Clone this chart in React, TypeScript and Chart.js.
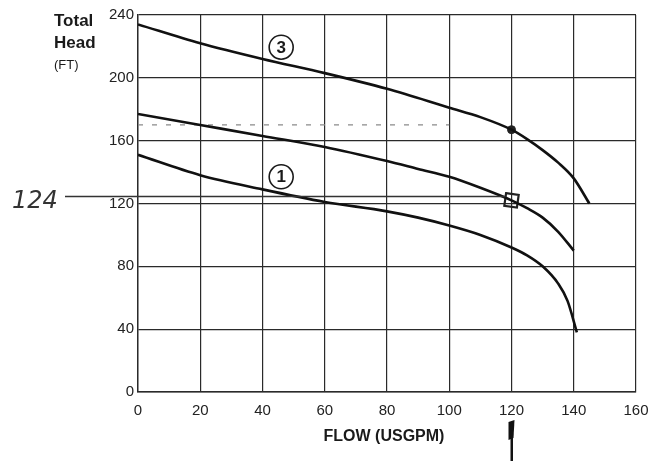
import React, { useEffect, useRef } from "react";
import { Chart, registerables } from "chart.js";

Chart.register(...registerables);

const xTicks = [0, 20, 40, 60, 80, 100, 120, 140, 160];
const yTicks = [0, 40, 80, 120, 160, 200, 240];

const flow3 = [0, 20, 40, 60, 80, 100, 110, 120, 125, 130, 135, 140, 145];
const head3 = [234, 222, 212, 203, 193, 181, 175, 167, 161, 154, 146, 136, 120];

const flow2 = [0, 20, 40, 60, 80, 90, 100, 110, 120, 125, 130, 135, 140];
const head2 = [177, 170, 163, 156, 147, 142, 137, 130, 122, 117, 111, 102, 90];

const flow1 = [0, 20, 40, 60, 80, 90, 100, 110, 120, 125, 130, 135, 138, 141];
const head1 = [151, 138, 129, 121, 115, 111, 106, 100, 92, 87, 80, 69, 58, 38];

const markedHead = 124.5;
const markedFlow = 120;
const dutyPoint = { x: 120, y: 122 };
const curve3Dot = { x: 120, y: 167 };
const pencilFlow = [0, 100];
const pencilHead = [170, 170];

const curveLabels = [
  { text: "3", x: 46, y: 219.5 },
  { text: "1", x: 46, y: 137 },
];

const pts = (xs: number[], ys: number[]) => xs.map((x, i) => ({ x, y: ys[i] }));

const FONT = "'Liberation Sans', Arial, sans-serif";

const textPlugin = {
  id: "extraText",
  afterDraw(chart: any) {
    const ctx = chart.ctx;
    const xs = chart.scales.x;
    const ys = chart.scales.y;
    const ca = chart.chartArea;
    ctx.save();
    ctx.fillStyle = "#1a1a1a";
    ctx.textBaseline = "middle";
    ctx.textAlign = "left";
    ctx.font = `bold 17px ${FONT}`;
    ctx.fillText("Total", 54, 21);
    ctx.fillText("Head", 54, 43);
    ctx.font = `13px ${FONT}`;
    ctx.fillText("(FT)", 54, 65);
    ctx.textAlign = "center";
    ctx.font = `bold 16px ${FONT}`;
    ctx.fillText("FLOW (USGPM)", (ca.left + ca.right) / 2 - 3, 437);

    // circled curve labels
    for (const l of curveLabels) {
      const px = xs.getPixelForValue(l.x);
      const py = ys.getPixelForValue(l.y);
      ctx.beginPath();
      ctx.fillStyle = "#ffffff";
      ctx.arc(px, py, 12, 0, Math.PI * 2);
      ctx.fill();
      ctx.lineWidth = 1.6;
      ctx.strokeStyle = "#1a1a1a";
      ctx.stroke();
      ctx.fillStyle = "#1a1a1a";
      ctx.font = `bold 17px ${FONT}`;
      ctx.fillText(l.text, px, py + 1);
    }

    // handwritten "124" line
    const hy = ys.getPixelForValue(markedHead);
    ctx.strokeStyle = "#333";
    ctx.lineWidth = 1.6;
    ctx.beginPath();
    ctx.moveTo(ca.left - 73, hy);
    ctx.lineTo(xs.getPixelForValue(markedFlow) - 6, hy);
    ctx.stroke();
    ctx.font = `italic 24px 'DejaVu Sans', sans-serif`;
    ctx.fillStyle = "#333";
    ctx.textAlign = "left";
    ctx.fillText("124", 12, hy + 5);

    // arrow under 120
    const ax = xs.getPixelForValue(markedFlow);
    ctx.fillStyle = "#111";
    ctx.beginPath();
    ctx.moveTo(ax - 3, 422);
    ctx.lineTo(ax + 3, 420);
    ctx.lineTo(ax + 2, 438);
    ctx.lineTo(ax - 3, 440);
    ctx.closePath();
    ctx.fill();
    ctx.fillRect(ax - 1, 436, 2.5, 25);
    ctx.restore();
  },
};

export default function App() {
  const ref = useRef<HTMLCanvasElement | null>(null);
  useEffect(() => {
    if (!ref.current) return;
    const chart = new Chart(ref.current, {
      type: "line",
      data: {
        datasets: [
          {
            data: pts(flow3, head3),
            borderColor: "#111",
            borderWidth: 2.6,
            pointRadius: 0,
            cubicInterpolationMode: "monotone",
          },
          {
            data: pts(flow2, head2),
            borderColor: "#111",
            borderWidth: 2.6,
            pointRadius: 0,
            cubicInterpolationMode: "monotone",
          },
          {
            data: pts(flow1, head1),
            borderColor: "#111",
            borderWidth: 2.6,
            pointRadius: 0,
            cubicInterpolationMode: "monotone",
          },
          {
            data: pts(pencilFlow, pencilHead),
            borderColor: "#8a8a8a",
            borderWidth: 1.2,
            borderDash: [5, 9],
            pointRadius: 0,
          },
          {
            data: [dutyPoint],
            showLine: false,
            pointStyle: "rect",
            pointRadius: 9,
            pointRotation: 8,
            pointBorderColor: "#222",
            pointBorderWidth: 2.2,
            pointBackgroundColor: "rgba(0,0,0,0)",
          },
          {
            data: [curve3Dot],
            showLine: false,
            pointRadius: 4,
            pointBackgroundColor: "#222",
            pointBorderColor: "#222",
          },
        ],
      },
      options: {
        responsive: false,
        animation: false,
        layout: { padding: { top: 15, right: 0, left: 0, bottom: 0 } },
        plugins: { legend: { display: false }, tooltip: { enabled: false } },
        scales: {
          x: {
            type: "linear",
            min: 0,
            max: 160,
            afterBuildTicks: (s: any) => {
              s.ticks = xTicks.map((v) => ({ value: v }));
            },
            afterFit: (s: any) => {
              s.height = 69;
              s.paddingRight = 17;
            },
            grid: { color: "#2a2a2a", lineWidth: 1.2, drawTicks: false },
            border: { color: "#2a2a2a", width: 1.4 },
            ticks: {
              padding: 10,
              color: "#222",
              font: { family: FONT, size: 15 },
              maxRotation: 0,
            },
          },
          y: {
            type: "linear",
            min: 0,
            max: 240,
            afterBuildTicks: (s: any) => {
              s.ticks = yTicks.map((v) => ({ value: v }));
            },
            afterFit: (s: any) => {
              s.width = 138;
            },
            grid: { color: "#2a2a2a", lineWidth: 1.2, drawTicks: false },
            border: { color: "#2a2a2a", width: 1.4 },
            ticks: {
              padding: 4,
              color: "#222",
              font: { family: FONT, size: 15 },
            },
          },
        },
      },
      plugins: [textPlugin],
    } as any);
    return () => chart.destroy();
  }, []);
  return (
    <div style={{ position: "fixed", left: 0, top: 0, width: 653, height: 461, background: "#fff" }}>
      <canvas ref={ref} width={653} height={461} style={{ width: 653, height: 461 }} />
    </div>
  );
}
